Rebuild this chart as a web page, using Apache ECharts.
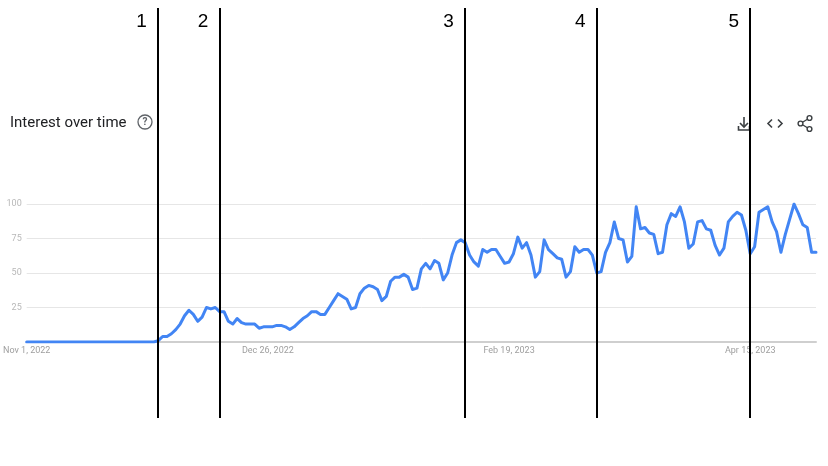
<!DOCTYPE html>
<html>
<head>
<meta charset="utf-8">
<script src="https://cdn.jsdelivr.net/npm/echarts@6/dist/echarts.min.js"></script>
<style>
  html, body { margin: 0; background: #fff; }
  #chart { width: 828px; height: 466px; }
</style>
</head>
<body>
<div id="chart"></div>
<script>
  // daily interest, Nov 1 2022 .. Apr 30 2023
  const interest = [
    0, 0, 0, 0, 0, 0, 0, 0, 0, 0, 0, 0, 0, 0, 0, 0, 0, 0, 0, 0,
    0, 0, 0, 0, 0, 0, 0, 0, 0, 0, 1, 4, 4, 6, 9, 13, 19, 23, 20, 15,
    18, 25, 24, 25, 22, 22, 15, 13, 17, 14, 13, 13, 13, 10, 11, 11, 11, 12, 12, 11,
    9, 11, 14, 17, 19, 22, 22, 20, 20, 25, 30, 35, 33, 31, 24, 25, 35, 39, 41, 40,
    38, 30, 33, 44, 47, 47, 49, 47, 38, 39, 53, 57, 53, 59, 57, 45, 50, 63, 72, 74,
    72, 63, 58, 55, 67, 65, 67, 67, 62, 57, 58, 64, 76, 68, 72, 63, 47, 51, 74, 67,
    64, 61, 60, 47, 51, 69, 65, 67, 67, 63, 50, 51, 65, 72, 87, 75, 74, 58, 62, 98,
    82, 83, 79, 78, 64, 65, 85, 93, 91, 98, 87, 68, 71, 87, 88, 82, 81, 70, 63, 68,
    87, 91, 94, 92, 81, 64, 69, 94, 96, 98, 87, 80, 65, 78, 89, 100, 93, 85, 83, 65,
    65
  ];
  const tickDays = [0, 55, 110, 165];       // days that carry a date label
  const yTicks = [25, 50, 75, 100];
  const markerDays = [30, 44, 100, 130, 165]; // numbered vertical lines
  const markerLabels = ['1', '2', '3', '4', '5'];

  const monthNames = ['Jan', 'Feb', 'Mar', 'Apr', 'May', 'Jun', 'Jul', 'Aug', 'Sep', 'Oct', 'Nov', 'Dec'];
  const days = interest.map((_, i) => {
    const d = new Date(2022, 10, 1 + i);
    return monthNames[d.getMonth()] + ' ' + d.getDate() + ', ' + d.getFullYear();
  });

  const chart = echarts.init(document.getElementById('chart'));
  const iconColor = '#3c4043';

  chart.setOption({
    animation: false,
    title: {
      text: 'Interest over time',
      left: 10,
      top: 116,
      padding: 0,
      textStyle: { fontFamily: 'Roboto', fontSize: 15, fontWeight: 'normal', color: '#202124' }
    },
    grid: [
      { left: 26.5, right: 12, top: 204, bottom: 124 },
      { left: 26.5, right: 12, top: 8, bottom: 48 }
    ],
    xAxis: [
      {
        type: 'category',
        gridIndex: 0,
        data: days,
        boundaryGap: false,
        axisLine: { lineStyle: { color: '#cfcfcf', width: 2 } },
        axisTick: { show: false },
        axisLabel: {
          interval: (i) => tickDays.includes(i),
          color: '#9e9e9e',
          fontFamily: 'Roboto',
          fontSize: 9,
          margin: 4
        },
        splitLine: { show: false }
      },
      {
        type: 'category',
        gridIndex: 1,
        data: days,
        boundaryGap: false,
        show: false
      }
    ],
    yAxis: [
      {
        type: 'value',
        gridIndex: 0,
        min: 0,
        max: 100,
        interval: 25,
        axisLine: { show: false },
        axisTick: { show: false },
        axisLabel: {
          formatter: (v) => (yTicks.includes(v) ? String(v) : ''),
          color: '#b8b8b8',
          fontFamily: 'Roboto',
          fontSize: 9,
          margin: 5
        },
        splitLine: { lineStyle: { color: '#e6e6e6', width: 1 } }
      },
      { type: 'value', gridIndex: 1, min: 0, max: 1, show: false }
    ],
    series: [
      {
        type: 'line',
        xAxisIndex: 0,
        yAxisIndex: 0,
        data: interest,
        symbol: 'none',
        lineStyle: { color: '#4285f4', width: 3, cap: 'round', join: 'round' },
        z: 3
      },
      {
        type: 'line',
        xAxisIndex: 1,
        yAxisIndex: 1,
        data: [],
        z: 10,
        markLine: {
          silent: true,
          symbol: ['none', 'none'],
          lineStyle: { color: '#000', width: 2, type: 'solid' },
          label: {
            position: 'end',
            formatter: (p) => p.name,
            color: '#000',
            fontFamily: 'Liberation Sans',
            fontSize: 19,
            distance: 0,
            offset: [-16.5, 23]
          },
          data: markerDays.map((d, i) => ({ name: markerLabels[i], xAxis: d }))
        }
      }
    ],
    graphic: [
      // help icon
      { type: 'circle', shape: { cx: 145, cy: 122, r: 7 }, style: { fill: 'none', stroke: '#5f6368', lineWidth: 1.3 } },
      { type: 'text', x: 145, y: 122.5, style: { text: '?', fill: '#5f6368', font: 'bold 10px Roboto', align: 'center', verticalAlign: 'middle' } },
      // download icon
      { type: 'polyline', shape: { points: [[744, 117], [744, 127]] }, style: { stroke: iconColor, lineWidth: 1.6 } },
      { type: 'polyline', shape: { points: [[740, 123], [744, 127], [748, 123]] }, style: { stroke: iconColor, lineWidth: 1.6, fill: 'none' } },
      { type: 'polyline', shape: { points: [[738.5, 126], [738.5, 130], [749.5, 130], [749.5, 126]] }, style: { stroke: iconColor, lineWidth: 1.6, fill: 'none' } },
      // embed icon
      { type: 'polyline', shape: { points: [[772, 119.5], [768, 123.5], [772, 127.5]] }, style: { stroke: iconColor, lineWidth: 1.6, fill: 'none' } },
      { type: 'polyline', shape: { points: [[778, 119.5], [782, 123.5], [778, 127.5]] }, style: { stroke: iconColor, lineWidth: 1.6, fill: 'none' } },
      // share icon
      { type: 'polyline', shape: { points: [[809.5, 118], [800.5, 123.5], [809.5, 129]] }, style: { stroke: iconColor, lineWidth: 1.3, fill: 'none' } },
      { type: 'circle', shape: { cx: 809.5, cy: 118, r: 2.4 }, style: { fill: '#fff', stroke: iconColor, lineWidth: 1.4 } },
      { type: 'circle', shape: { cx: 800.5, cy: 123.5, r: 2.4 }, style: { fill: '#fff', stroke: iconColor, lineWidth: 1.4 } },
      { type: 'circle', shape: { cx: 809.5, cy: 129, r: 2.4 }, style: { fill: '#fff', stroke: iconColor, lineWidth: 1.4 } }
    ]
  });
</script>
</body>
</html>
